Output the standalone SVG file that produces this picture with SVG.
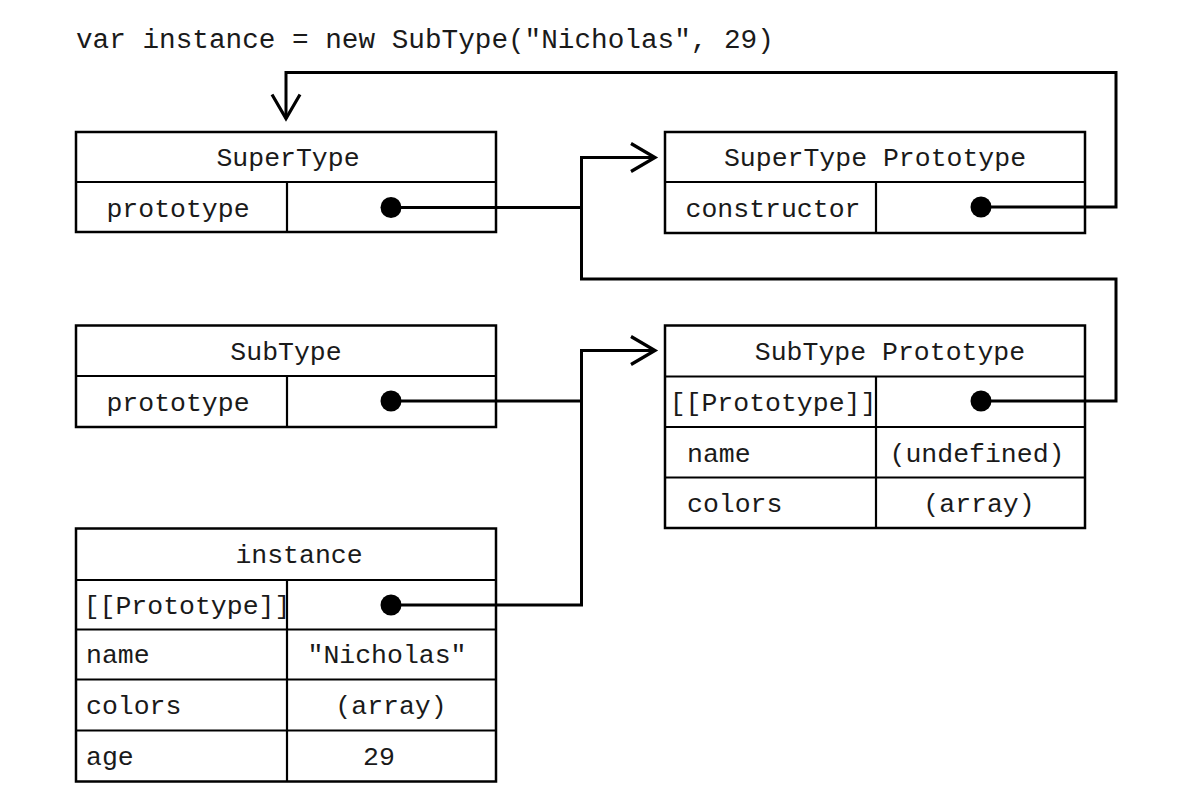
<svg xmlns="http://www.w3.org/2000/svg" width="1196" height="808" viewBox="0 0 1196 808">
<style>
  .box { fill: #ffffff; stroke: #000; stroke-width: 2.5; }
  .div { stroke: #000; stroke-width: 2.2; fill: none; }
  .t { font-family: "Liberation Mono", "DejaVu Sans Mono", monospace; font-size: 26.5px; fill: #1a1a1a; }
  .m { text-anchor: middle; }
  .conn { fill: none; stroke: #000; stroke-width: 3; stroke-linejoin: miter; }
  .dot { fill: #000; }
</style>
<defs>
  <marker id="arr" markerUnits="userSpaceOnUse" markerWidth="40" markerHeight="40" viewBox="-30 -20 40 40" refX="0" refY="0" orient="auto" overflow="visible">
    <path d="M-24,-14 L0,0 L-24,14" fill="none" stroke="#000" stroke-width="3.2"/>
  </marker>
</defs>
<rect width="1196" height="808" fill="#fff"/>
<text class="t" x="76" y="48" style="font-size:27.7px">var instance = new SubType("Nicholas", 29)</text>

<g id="supertype">
  <rect class="box" x="76" y="132" width="420" height="100"/>
  <line class="div" x1="76" y1="182" x2="496" y2="182"/>
  <line class="div" x1="287" y1="182" x2="287" y2="232"/>
  <text class="t m" x="288" y="166">SuperType</text>
  <text class="t m" x="178" y="216.5">prototype</text>
  <circle class="dot" cx="391" cy="207.5" r="10.5"/>
</g>

<g id="supertype-prototype">
  <rect class="box" x="665" y="132" width="420" height="101"/>
  <line class="div" x1="665" y1="182" x2="1085" y2="182"/>
  <line class="div" x1="876" y1="182" x2="876" y2="233"/>
  <text class="t m" x="875" y="166">SuperType Prototype</text>
  <text class="t m" x="773" y="216.5">constructor</text>
  <circle class="dot" cx="981" cy="207" r="10.5"/>
</g>

<g id="subtype">
  <rect class="box" x="76" y="325.5" width="420" height="101.5"/>
  <line class="div" x1="76" y1="376" x2="496" y2="376"/>
  <line class="div" x1="287" y1="376" x2="287" y2="427"/>
  <text class="t m" x="286" y="359.5">SubType</text>
  <text class="t m" x="178" y="410.5">prototype</text>
  <circle class="dot" cx="391" cy="401" r="10.5"/>
</g>

<g id="subtype-prototype">
  <rect class="box" x="665" y="325.5" width="420" height="202.5"/>
  <line class="div" x1="665" y1="376.5" x2="1085" y2="376.5"/>
  <line class="div" x1="665" y1="427" x2="1085" y2="427"/>
  <line class="div" x1="665" y1="477.5" x2="1085" y2="477.5"/>
  <line class="div" x1="876" y1="376.5" x2="876" y2="528"/>
  <text class="t m" x="890" y="359.5">SubType Prototype</text>
  <text class="t m" x="773" y="411">[[Prototype]]</text>
  <text class="t" x="687" y="461.5">name</text>
  <text class="t m" x="977" y="461.5">(undefined)</text>
  <text class="t" x="687" y="512">colors</text>
  <text class="t m" x="979" y="512">(array)</text>
  <circle class="dot" cx="981" cy="401" r="10.5"/>
</g>

<g id="instance">
  <rect class="box" x="76" y="528.5" width="420" height="253"/>
  <line class="div" x1="76" y1="580" x2="496" y2="580"/>
  <line class="div" x1="76" y1="629.5" x2="496" y2="629.5"/>
  <line class="div" x1="76" y1="679.5" x2="496" y2="679.5"/>
  <line class="div" x1="76" y1="730.5" x2="496" y2="730.5"/>
  <line class="div" x1="287" y1="580" x2="287" y2="781.5"/>
  <text class="t m" x="299" y="563">instance</text>
  <text class="t m" x="187" y="614">[[Prototype]]</text>
  <text class="t" x="86" y="663">name</text>
  <text class="t m" x="387" y="663">"Nicholas"</text>
  <text class="t" x="86" y="714">colors</text>
  <text class="t m" x="391" y="714">(array)</text>
  <text class="t" x="86" y="765">age</text>
  <text class="t m" x="379" y="765">29</text>
  <circle class="dot" cx="391" cy="605" r="10.5"/>
</g>

<g id="connectors">
  <path class="conn" d="M391,207.5 H581.5"/>
  <path class="conn" d="M981,207 H1116 V72.5 H286 V118.5" marker-end="url(#arr)"/>
  <path class="conn" d="M981,401 H1116 V279 H581.5 V157.5 H655" marker-end="url(#arr)"/>
  <path class="conn" d="M391,401 H581.5"/>
  <path class="conn" d="M391,605 H581.5 V350.5 H655" marker-end="url(#arr)"/>
</g>
</svg>
